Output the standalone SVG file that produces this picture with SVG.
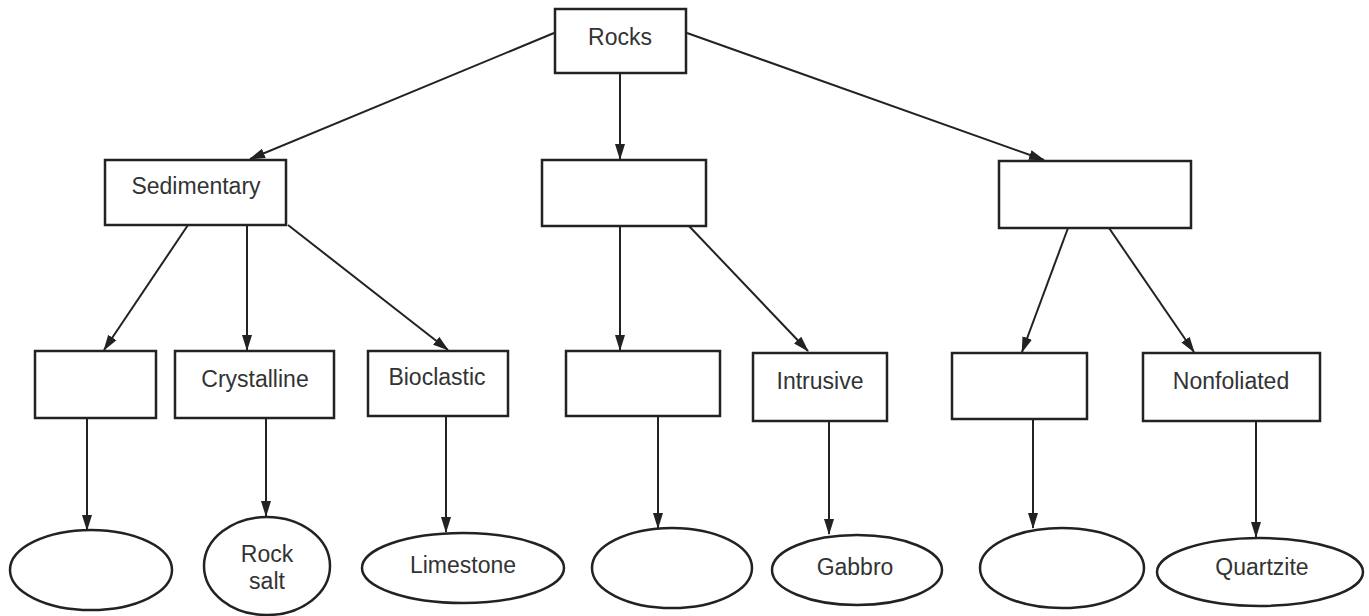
<svg xmlns="http://www.w3.org/2000/svg" width="1369" height="616" viewBox="0 0 1369 616">
<style>
.box{fill:#fff;stroke:#222;stroke-width:2.5}
.lbl{font-family:"Liberation Sans",Arial,sans-serif;font-size:23px;fill:#333;text-anchor:middle}
.con{stroke:#222;stroke-width:2;fill:none;marker-end:url(#ah)}
</style>
<defs>
<marker id="ah" markerWidth="16" markerHeight="12" refX="15" refY="6" orient="auto" markerUnits="userSpaceOnUse">
<path d="M0,1 L16,6 L0,11 Z" fill="#222"/>
</marker>
</defs>
<rect width="1369" height="616" fill="#fff"/>
<g id="connectors">
<line class="con" x1="554" y1="33" x2="250" y2="159"/>
<line class="con" x1="620" y1="73" x2="620" y2="159"/>
<line class="con" x1="687" y1="33" x2="1044" y2="160"/>
<line class="con" x1="188" y1="225" x2="104" y2="350"/>
<line class="con" x1="247" y1="225" x2="247" y2="350"/>
<line class="con" x1="288" y1="225" x2="448" y2="350"/>
<line class="con" x1="620" y1="226" x2="620" y2="350"/>
<line class="con" x1="689" y1="226" x2="808" y2="351"/>
<line class="con" x1="1068" y1="228" x2="1022" y2="352"/>
<line class="con" x1="1109" y1="228" x2="1194" y2="352"/>
<line class="con" x1="87" y1="418" x2="87" y2="530"/>
<line class="con" x1="266" y1="418" x2="266" y2="516"/>
<line class="con" x1="446" y1="416" x2="446" y2="532"/>
<line class="con" x1="658" y1="416" x2="658" y2="528"/>
<line class="con" x1="829" y1="421" x2="829" y2="534"/>
<line class="con" x1="1033" y1="419" x2="1033" y2="528"/>
<line class="con" x1="1256" y1="421" x2="1256" y2="537"/>
</g>
<g id="rocks"><rect class="box" x="555" y="9" width="131" height="64"/><text class="lbl" x="620" y="45">Rocks</text></g>
<g id="sedimentary"><rect class="box" x="105" y="160" width="181" height="65"/><text class="lbl" x="196" y="194">Sedimentary</text></g>
<g id="igneous"><rect class="box" x="542" y="160" width="164" height="66"/></g>
<g id="metamorphic"><rect class="box" x="999" y="161" width="192" height="67"/></g>
<g id="clastic"><rect class="box" x="35" y="351" width="121" height="67"/></g>
<g id="crystalline"><rect class="box" x="175" y="351" width="159" height="67"/><text class="lbl" x="255" y="387">Crystalline</text></g>
<g id="bioclastic"><rect class="box" x="368" y="351" width="140" height="65"/><text class="lbl" x="437" y="385">Bioclastic</text></g>
<g id="extrusive"><rect class="box" x="566" y="351" width="154" height="65"/></g>
<g id="intrusive"><rect class="box" x="753" y="353" width="134" height="68"/><text class="lbl" x="820" y="389">Intrusive</text></g>
<g id="foliated"><rect class="box" x="952" y="353" width="135" height="66"/></g>
<g id="nonfoliated"><rect class="box" x="1143" y="353" width="177" height="68"/><text class="lbl" x="1231" y="389">Nonfoliated</text></g>
<g id="e1"><ellipse class="box" cx="91" cy="570" rx="81" ry="40"/></g>
<g id="rocksalt"><ellipse class="box" cx="267" cy="566" rx="63" ry="49"/><text class="lbl" x="267" y="562">Rock</text><text class="lbl" x="267" y="589">salt</text></g>
<g id="limestone"><ellipse class="box" cx="463" cy="568" rx="101" ry="35"/><text class="lbl" x="463" y="573">Limestone</text></g>
<g id="e4"><ellipse class="box" cx="672" cy="568" rx="80" ry="40"/></g>
<g id="gabbro"><ellipse class="box" cx="857" cy="570" rx="85" ry="35"/><text class="lbl" x="855" y="575">Gabbro</text></g>
<g id="e6"><ellipse class="box" cx="1062" cy="568" rx="82" ry="40"/></g>
<g id="quartzite"><ellipse class="box" cx="1260" cy="572" rx="103" ry="34"/><text class="lbl" x="1262" y="575">Quartzite</text></g>
</svg>
